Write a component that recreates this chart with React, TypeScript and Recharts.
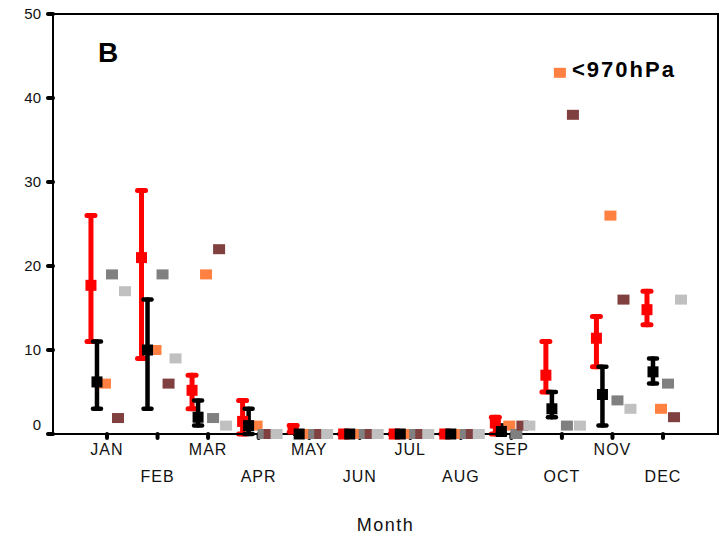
import { ComposedChart, Scatter, ErrorBar, XAxis, YAxis, ReferenceArea } from 'recharts';

// Monthly counts
const MONTHS = ['JAN', 'FEB', 'MAR', 'APR', 'MAY', 'JUN', 'JUL', 'AUG', 'SEP', 'OCT', 'NOV', 'DEC'];
const MONTH_TICKS = [1, 2, 3, 4, 5, 6, 7, 8, 9, 10, 11, 12];
const Y_TICKS = [0, 10, 20, 30, 40, 50];

const RED_MEAN = [17.7, 21, 5.2, 1.5, 0.6, 0, 0, 0, 1.3, 7, 11.4, 14.8];
const RED_LOW = [11, 9, 3, 0, 0.2, 0, 0, 0, 0, 5, 8, 13];
const RED_HIGH = [26, 29, 7, 4, 1, 0, 0, 0, 2, 11, 14, 17];

const BLACK_MEAN = [6.2, 10, 2, 1, 0, 0, 0, 0, 0.3, 3, 4.7, 7.4];
const BLACK_LOW = [3, 3, 1, 0, 0, 0, 0, 0, 0, 2, 1, 6];
const BLACK_HIGH = [11, 16, 4, 3, 0, 0, 0, 0, 1, 5, 8, 9];

const ORANGE = [6, 10, 19, 1, 0, 0, 0, 0, 1, 43, 26, 3];
const GRAY = [19, 19, 1.9, 0, 0, 0, 0, 0, 0, 1, 4, 6];
const MAROON = [1.9, 6, 22, 0, 0, 0, 0, 0, 1, 38, 16, 2];
const LIGHT_GRAY = [17, 9, 1, 0, 0, 0, 0, 0, 1, 1, 3, 16];

const W = 726;
const H = 535;
const X_MIN = -0.068;
const X_MAX = 13.088;
const FONT = 'Arial, "Liberation Sans", sans-serif';

// horizontal nudge of each series inside its month (in month units)
const OFFSET = {
  red: -0.317,
  black: -0.198,
  orange: -0.04,
  gray: 0.099,
  maroon: 0.218,
  lightGray: 0.356,
};

const toPoints = (vals: number[], off: number) =>
  vals.map((v, i) => ({ x: MONTH_TICKS[i] + off, y: v }));

const toErrPoints = (mean: number[], low: number[], high: number[], off: number) =>
  mean.map((m, i) => ({ x: MONTH_TICKS[i] + off, y: m, err: [m - low[i], high[i] - m] }));

const square = (fill: string, w: number, h: number) => (props: any) => (
  <rect x={props.cx - w / 2} y={props.cy - h / 2} width={w} height={h} fill={fill} />
);

function MonthTick({ x, y, payload }: any) {
  const idx = payload.value - 1;
  const lower = idx % 2 === 1;
  return (
    <text
      x={x}
      y={y + (lower ? 42 : 15)}
      textAnchor="middle"
      fontSize={16}
      letterSpacing={1}
      fontFamily={FONT}
      fill="#111"
    >
      {MONTHS[idx]}
    </text>
  );
}

function ValueTick({ x, y, payload }: any) {
  const shift = payload.value === 0 ? -9.5 : 0;
  return (
    <text x={x} y={y + 5.4 + shift} textAnchor="end" fontSize={15} fontFamily={FONT} fill="#111">
      {payload.value}
    </text>
  );
}

const TICK_LINE = { stroke: '#000', strokeWidth: 4, strokeLinecap: 'round' as const };

export default function App() {
  return (
    <div style={{ position: 'absolute', left: 0, top: 0, width: W, height: H, fontFamily: FONT }}>
      <ComposedChart width={W} height={H} margin={{ top: 14, right: 8, bottom: 41, left: 13 }}>
        <XAxis
          type="number"
          dataKey="x"
          domain={[X_MIN, X_MAX]}
          allowDataOverflow
          ticks={MONTH_TICKS}
          interval={0}
          height={60}
          tick={<MonthTick />}
          tickSize={4}
          tickMargin={2}
          tickLine={TICK_LINE}
          axisLine={{ stroke: '#000', strokeWidth: 2 }}
        />
        <YAxis
          type="number"
          dataKey="y"
          domain={[0, 50]}
          ticks={Y_TICKS}
          width={40}
          tick={<ValueTick />}
          tickSize={5}
          tickMargin={7}
          tickLine={TICK_LINE}
          axisLine={{ stroke: '#000', strokeWidth: 2 }}
        />
        <ReferenceArea
          x1={X_MIN}
          x2={X_MAX}
          y1={0}
          y2={50}
          fill="none"
          fillOpacity={0}
          stroke="#000"
          strokeWidth={2}
        />

        <Scatter data={toPoints(ORANGE, OFFSET.orange)} shape={square('#FF8040', 12, 10)} isAnimationActive={false} />
        <Scatter data={toPoints(GRAY, OFFSET.gray)} shape={square('#808080', 12, 10)} isAnimationActive={false} />
        <Scatter data={toPoints(MAROON, OFFSET.maroon)} shape={square('#804040', 12, 10)} isAnimationActive={false} />
        <Scatter data={toPoints(LIGHT_GRAY, OFFSET.lightGray)} shape={square('#C0C0C0', 12, 10)} isAnimationActive={false} />

        <Scatter
          data={toErrPoints(RED_MEAN, RED_LOW, RED_HIGH, OFFSET.red)}
          shape={square('#FF0000', 11, 11)}
          isAnimationActive={false}
        >
          <ErrorBar dataKey="err" direction="y" width={4} stroke="#FF0000" strokeWidth={5} strokeLinecap="round" isAnimationActive={false} />
        </Scatter>
        <Scatter
          data={toErrPoints(BLACK_MEAN, BLACK_LOW, BLACK_HIGH, OFFSET.black)}
          shape={square('#000000', 11, 11)}
          isAnimationActive={false}
        >
          <ErrorBar dataKey="err" direction="y" width={4} stroke="#000000" strokeWidth={4.5} strokeLinecap="round" isAnimationActive={false} />
        </Scatter>

        <text x={98} y={62} fontSize={28} fontWeight="bold" fontFamily={FONT} fill="#000">
          B
        </text>
        <text x={572} y={77} fontSize={22} fontWeight="bold" letterSpacing={2} fontFamily={FONT} fill="#000">
          {'<970hPa'}
        </text>
        <text x={385.5} y={531} textAnchor="middle" fontSize={18} letterSpacing={1.5} fontFamily={FONT} fill="#111">
          Month
        </text>
      </ComposedChart>
    </div>
  );
}
